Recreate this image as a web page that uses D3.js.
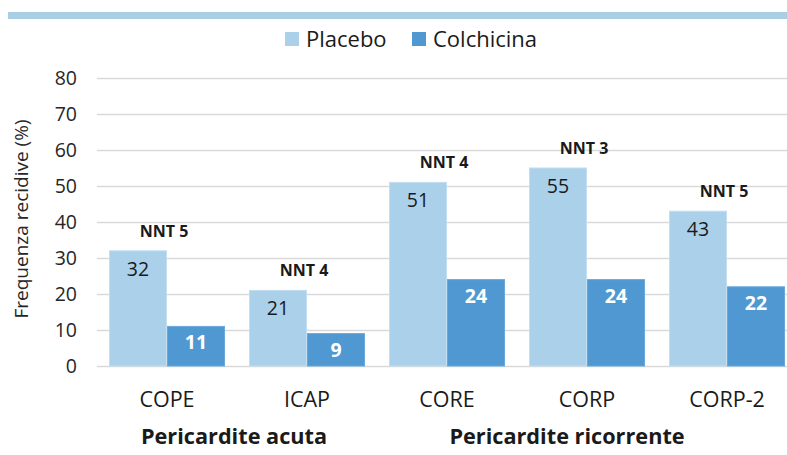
<!DOCTYPE html>
<html><head><meta charset="utf-8">
<script src="https://cdn.jsdelivr.net/npm/d3@7"></script>
<style>
html,body{margin:0;padding:0;background:#fff;}
svg{display:block;font-family:"Open Sans",sans-serif;}
</style></head>
<body><svg id="c" width="787" height="455"></svg>
<script>
const categories = ["COPE","ICAP","CORE","CORP","CORP-2"];
const placebo = [32,21,51,55,43];
const colchicina = [11,9,24,24,22];
const nnt = ["NNT 5","NNT 4","NNT 4","NNT 3","NNT 5"];
const groups = [{name:"Pericardite acuta", from:0, to:1},{name:"Pericardite ricorrente", from:2, to:4}];
const yTicks = [0,10,20,30,40,50,60,70,80];
const seriesNames = ["Placebo","Colchicina"];
const colors = ["#abd0ea","#5098d1"];

const svg = d3.select("#c");
const x = d3.scaleBand().domain(categories).range([97,797]).paddingInner(24/140).paddingOuter(12/140);
const xs = d3.scaleBand().domain([0,1]).range([0,x.bandwidth()]);
const y = d3.scaleLinear().domain([0,80]).range([366,78]);

// top decorative bar
svg.append("rect").attr("x",8).attr("y",12).attr("width",779).attr("height",7).attr("fill","#a8cfe3");

// grid
svg.append("g").selectAll("line").data(yTicks).join("line")
  .attr("x1",97).attr("x2",787).attr("y1",d=>y(d)+0.5).attr("y2",d=>y(d)+0.5)
  .attr("stroke","#d9d9d9").attr("stroke-width",1.3);
svg.append("g").selectAll("text").data(yTicks).join("text")
  .attr("x",77).attr("y",d=>y(d)).attr("dy","0.36em").attr("text-anchor","end")
  .attr("font-size",19.5).attr("fill","#262626").text(d=>d);

// y title
svg.append("text").attr("transform","translate(28,219) rotate(-90)")
  .attr("text-anchor","middle").attr("font-size",19).attr("fill","#262626").text("Frequenza recidive (%)");

const data = categories.map((c,i)=>({c, vals:[placebo[i],colchicina[i]], nnt:nnt[i]}));
const g = svg.append("g").selectAll("g").data(data).join("g").attr("transform",d=>`translate(${x(d.c)},0)`);
g.selectAll("rect").data(d=>d.vals.map((v,k)=>({v,k}))).join("rect")
  .attr("x",d=>xs(d.k)+0.5).attr("width",xs.bandwidth()-1)
  .attr("y",d=>y(d.v)).attr("height",d=>y(0)-y(d.v))
  .attr("fill",d=>colors[d.k]).attr("stroke",d=>d.k===0?"#c3def0":"#6aa8da").attr("stroke-width",1);
g.selectAll("text.v").data(d=>d.vals.map((v,k)=>({v,k}))).join("text").attr("class","v")
  .attr("x",d=>xs(d.k)+xs.bandwidth()/2).attr("y",d=>y(d.v)+(d.k===0?25:23))
  .attr("text-anchor","middle").attr("font-size",d=>d.k===0?19.5:19.5)
  .attr("font-weight",d=>d.k===0?"normal":"bold")
  .attr("fill",d=>d.k===0?"#1a1a1a":"#fff").text(d=>d.v);
g.append("text").attr("x",x.bandwidth()/2-3).attr("y",d=>y(d.vals[0])-14)
  .attr("text-anchor","middle").attr("font-size",16).attr("font-weight","bold").attr("fill","#1a1a1a").text(d=>d.nnt);

// category labels
svg.append("g").selectAll("text").data(categories).join("text")
  .attr("x",d=>x(d)+x.bandwidth()/2).attr("y",407).attr("text-anchor","middle")
  .attr("font-size",21.5).attr("fill","#1a1a1a").text(d=>d);
svg.append("g").selectAll("text").data(groups).join("text")
  .attr("x",d=>(x(categories[d.from])+x(categories[d.to])+x.bandwidth())/2 - (d.from===2?20:3)).attr("y",444)
  .attr("text-anchor","middle").attr("font-size",21.7).attr("font-weight","bold").attr("fill","#1a1a1a").text(d=>d.name);

// legend
const lx=[285,412];
const lg = svg.append("g").selectAll("g").data(seriesNames).join("g").attr("transform",(d,i)=>`translate(${lx[i]},32)`);
lg.append("rect").attr("width",14).attr("height",14).attr("fill",(d,i)=>colors[i]);
lg.append("text").attr("x",21).attr("y",14.5).attr("font-size",22).attr("fill","#1a1a1a").text(d=>d);
</script></body></html>
